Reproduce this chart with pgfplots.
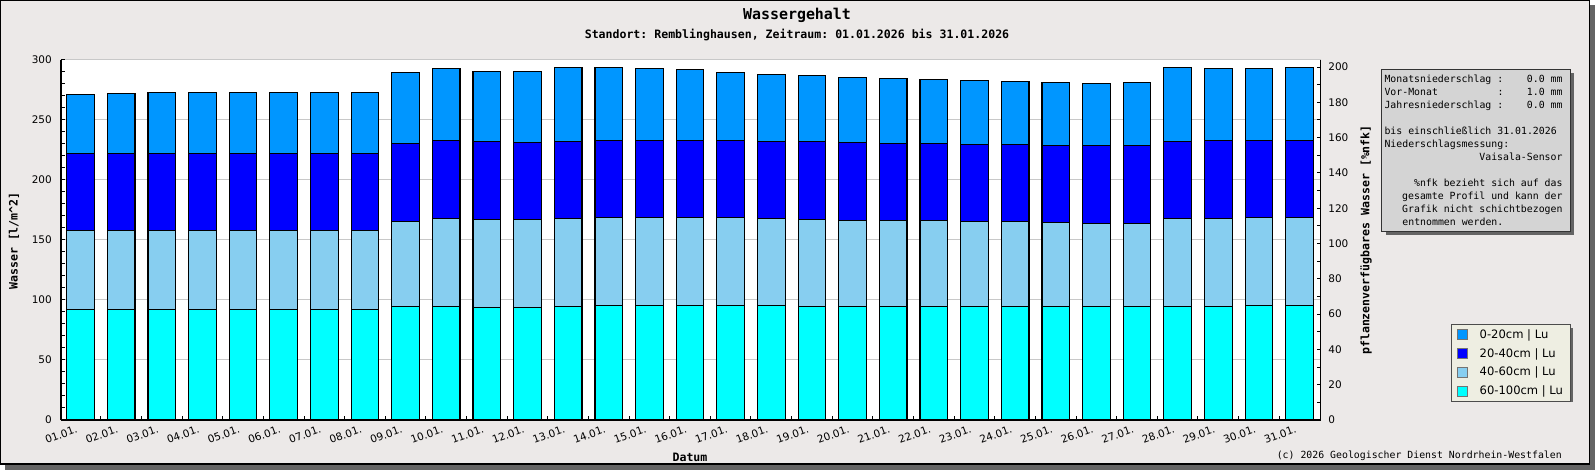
\documentclass[border=0pt]{standalone}
\usepackage{fontspec}
\setmainfont{DejaVu Sans}
\setmonofont{DejaVu Sans Mono}
\usepackage{pgfplots}
\pgfplotsset{compat=1.18}
\usepackage{pgfplotstable}

\definecolor{cA}{RGB}{0,150,255}
\definecolor{cB}{RGB}{0,0,255}
\definecolor{cC}{RGB}{135,206,240}
\definecolor{cD}{RGB}{0,255,255}
\definecolor{bgc}{RGB}{236,233,232}
\definecolor{infobg}{RGB}{212,212,212}
\definecolor{legbg}{RGB}{238,238,226}
\definecolor{shadowc}{RGB}{100,100,100}
\definecolor{gridc}{RGB}{200,200,200}

% a = 60-100cm, b = 40-60cm, c = 20-40cm, d = 0-20cm  (l/m^2, stacked)
\pgfplotstableread{
x a b c d
0 92.2 65.6 64.4 49.2
1 92.2 65.6 64.4 50.0
2 92.2 65.6 64.4 50.9
3 92.2 65.6 64.4 50.9
4 92.2 65.6 64.4 50.9
5 92.2 65.6 64.4 50.9
6 92.2 65.6 64.4 50.9
7 92.2 65.6 64.4 50.9
8 94.7 70.9 65.0 59.1
9 94.7 73.4 65.0 60.0
10 93.9 73.3 65.0 58.4
11 93.9 73.3 64.2 59.2
12 94.7 73.4 64.1 61.7
13 95.6 73.3 64.2 60.8
14 95.6 73.3 64.2 60.0
15 95.6 73.3 64.2 59.1
16 95.6 73.3 64.2 56.6
17 95.6 72.5 64.1 55.9
18 94.7 72.2 65.3 55.0
19 94.7 71.4 65.3 54.2
20 94.7 71.4 64.5 54.1
21 94.7 71.4 64.5 53.3
22 94.7 70.6 64.4 53.4
23 94.7 70.6 64.4 52.5
24 94.7 69.7 64.5 52.5
25 94.7 68.9 65.3 51.7
26 94.7 68.9 65.3 52.5
27 94.7 73.4 64.1 61.7
28 94.7 73.4 65.0 60.0
29 95.6 73.3 64.2 60.0
30 95.6 73.3 64.2 60.8
}\datatable

\newcommand\monofont{\fontsize{9.9}{12}\selectfont\ttfamily}

\begin{document}
\begin{tikzpicture}[x=1bp,y=1bp]
\path[use as bounding box] (0,0) rectangle (1595,470);
% frame with shadow
\fill[shadowc] (5,0) rectangle (1595,465);
\fill[bgc,draw=black,line width=1.5bp] (0.75,5.75) rectangle (1589.25,469.25);
% legend shadow
\fill[shadowc] (1454.7,68) rectangle (1573,142);

\begin{axis}[
  at={(61bp,50bp)}, anchor=south west,
  scale only axis, width=1259.7bp, height=360bp,
  xmin=-0.48, xmax=30.52, ymin=0, ymax=300,
  enlargelimits=false,
  axis background/.style={fill=white},
  axis x line*=bottom, axis y line*=left,
  axis line style={-, line width=1.2bp, black},
  ybar stacked, bar width=0.68,
  xtick={0,...,30},
  xticklabels={01.01.,02.01.,03.01.,04.01.,05.01.,06.01.,07.01.,08.01.,09.01.,10.01.,11.01.,12.01.,13.01.,14.01.,15.01.,16.01.,17.01.,18.01.,19.01.,20.01.,21.01.,22.01.,23.01.,24.01.,25.01.,26.01.,27.01.,28.01.,29.01.,30.01.,31.01.},
  minor xtick={0.5,1.5,...,29.5},
  every major x tick/.append style={draw=none},
  ytick={0,50,...,300}, minor y tick num=4,
  tick align=inside, major tick length=4bp, minor tick length=4bp,
  tick style={black, line width=1bp},
  ymajorgrids, grid style={gridc, line width=1bp},
  /pgf/number format/assume math mode=true,
  yticklabel style={font=\fontsize{10.5}{12}\selectfont, anchor=east, inner sep=0pt, xshift=-9bp},
  xticklabel style={font=\fontsize{10.5}{12}\selectfont, yshift=-5bp, xshift=-5bp, rotate=20, anchor=north east, inner sep=0pt},
  reverse legend,
  legend style={at={(axis description cs:1.1032,0.2667)}, anchor=north west,
    fill=legbg, draw=black!70, line width=0.8bp,
    font=\fontsize{11.6}{13}\selectfont,
    inner xsep=6bp, inner ysep=4bp, row sep=6.5bp, column sep=11bp,
    nodes={inner sep=1bp}},
  legend cell align=left,
  legend image code/.code={\draw[#1, draw=black!55, line width=0.6bp] (0bp,-5bp) rectangle (10bp,5bp);},
]
\addplot[fill=cD, draw=black, line width=1.2bp] table[x=x,y=a]{\datatable};
\addlegendentry{60-100cm | Lu}
\addplot[fill=cC, draw=black, line width=1.2bp] table[x=x,y=b]{\datatable};
\addlegendentry{40-60cm | Lu}
\addplot[fill=cB, draw=black, line width=1.2bp] table[x=x,y=c]{\datatable};
\addlegendentry{20-40cm | Lu}
\addplot[fill=cA, draw=black, line width=1.2bp] table[x=x,y=d]{\datatable};
\addlegendentry{0-20cm | Lu}
\end{axis}

\begin{axis}[
  at={(61bp,50bp)}, anchor=south west,
  scale only axis, width=1259.7bp, height=360bp,
  xmin=-0.48, xmax=30.52, ymin=0, ymax=204,
  axis x line=none, axis y line*=right,
  axis line style={-, line width=1.2bp, black},
  ytick={0,20,...,200}, minor y tick num=1,
  tick align=inside, major tick length=4bp, minor tick length=4bp,
  tick style={black, line width=1bp},
  /pgf/number format/assume math mode=true,
  yticklabel style={font=\fontsize{10.5}{12}\selectfont, anchor=west, inner sep=0pt, xshift=7.5bp},
]
\end{axis}

% titles and labels
\node[anchor=base, inner sep=0] at (797,450) {\fontsize{15}{17}\selectfont\ttfamily\bfseries Wassergehalt};
\node[anchor=base, inner sep=0] at (797,431.7) {\fontsize{11.6}{13}\selectfont\ttfamily\bfseries Standort: Remblinghausen, Zeitraum: 01.01.2026 bis 31.01.2026};
\node[rotate=90, inner sep=0] at (14,229) {\fontsize{11.6}{13}\selectfont\ttfamily\bfseries Wasser [l/m\textasciicircum 2]};
\node[rotate=90, inner sep=0] at (1366,230) {\fontsize{11.6}{13}\selectfont\ttfamily\bfseries pflanzenverfügbares Wasser [\%nfk]};
\node[inner sep=0] at (690,13) {\fontsize{11.6}{13}\selectfont\ttfamily\bfseries Datum};
\node[anchor=base east, inner sep=0] at (1562,11.5) {\monofont (c) 2026 Geologischer Dienst Nordrhein-Westfalen};

% info box
\fill[shadowc] (1385.7,235) rectangle (1574,397);
\draw[fill=infobg, draw=black!80, line width=0.8bp] (1381.7,239) rectangle (1570,401);
\begin{scope}[every node/.style={inner sep=0, font=\monofont}]
\node[anchor=base west] at (1384.3,387) {Monatsniederschlag :};
\node[anchor=base east] at (1562.7,387) {0.0 mm};
\node[anchor=base west] at (1384.3,374) {Vor-Monat};
\node[anchor=base west] at (1497.35,374) {:};
\node[anchor=base east] at (1562.7,374) {1.0 mm};
\node[anchor=base west] at (1384.3,361) {Jahresniederschlag :};
\node[anchor=base east] at (1562.7,361) {0.0 mm};
\node[anchor=base west] at (1384.3,335) {bis einschließlich 31.01.2026};
\node[anchor=base west] at (1384.3,322) {Niederschlagsmessung:};
\node[anchor=base east] at (1562.7,309) {Vaisala-Sensor};
\node[anchor=base east] at (1562.7,283) {\%nfk bezieht sich auf das};
\node[anchor=base east] at (1562.7,270) {gesamte Profil und kann der};
\node[anchor=base east] at (1562.7,257) {Grafik nicht schichtbezogen};
\node[anchor=base west] at (1402.2,244) {entnommen werden.};
\end{scope}
\end{tikzpicture}
\end{document}
